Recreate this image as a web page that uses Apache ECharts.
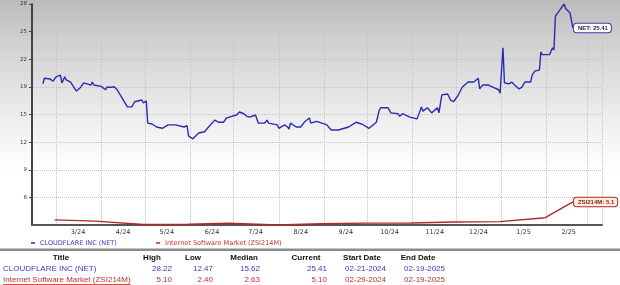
<!DOCTYPE html>
<html><head><meta charset="utf-8">
<script src="https://cdn.jsdelivr.net/npm/echarts@6/dist/echarts.min.js"></script>
<style>
html,body{margin:0;padding:0;background:#fff;}
#c{width:620px;height:285px;}
</style></head><body><div id="c"></div>
<script>
// ---- data ----
const netDates = ['2024-02-21','2024-02-22','2024-02-26','2024-02-28','2024-03-01','2024-03-04','2024-03-05','2024-03-07','2024-03-08','2024-03-11','2024-03-15','2024-03-18','2024-03-20','2024-03-25','2024-03-26','2024-03-27','2024-04-01','2024-04-04','2024-04-05','2024-04-08','2024-04-10','2024-04-12','2024-04-15','2024-04-16','2024-04-19','2024-04-22','2024-04-24','2024-04-25','2024-04-29','2024-04-30','2024-05-02','2024-05-03','2024-05-06','2024-05-09','2024-05-13','2024-05-17','2024-05-22','2024-05-28','2024-05-30','2024-05-31','2024-06-03','2024-06-07','2024-06-11','2024-06-13','2024-06-18','2024-06-21','2024-06-24','2024-06-26','2024-06-28','2024-07-03','2024-07-05','2024-07-08','2024-07-10','2024-07-12','2024-07-16','2024-07-18','2024-07-22','2024-07-24','2024-07-25','2024-07-26','2024-07-31','2024-08-01','2024-08-05','2024-08-07','2024-08-08','2024-08-09','2024-08-13','2024-08-16','2024-08-19','2024-08-22','2024-08-23','2024-08-27','2024-09-03','2024-09-06','2024-09-11','2024-09-18','2024-09-23','2024-09-27','2024-10-02','2024-10-07','2024-10-09','2024-10-10','2024-10-15','2024-10-17','2024-10-22','2024-10-23','2024-10-25','2024-10-30','2024-11-04','2024-11-07','2024-11-08','2024-11-11','2024-11-14','2024-11-18','2024-11-19','2024-11-21','2024-11-25','2024-11-27','2024-11-29','2024-12-02','2024-12-05','2024-12-09','2024-12-10','2024-12-13','2024-12-16','2024-12-17','2024-12-19','2024-12-23','2024-12-26','2024-12-30','2024-12-31','2025-01-02','2025-01-03','2025-01-06','2025-01-08','2025-01-10','2025-01-13','2025-01-15','2025-01-17','2025-01-21','2025-01-22','2025-01-24','2025-01-27','2025-01-28','2025-01-29','2025-01-30','2025-02-03','2025-02-05','2025-02-06','2025-02-07','2025-02-10','2025-02-11','2025-02-13','2025-02-14','2025-02-17','2025-02-18','2025-02-19'];
const netValues = [18.9,19.55,19.45,19.2,19.7,19.9,19.0,19.7,19.35,19.1,18.05,18.5,19.0,18.75,19.1,18.75,18.6,18.2,18.5,18.5,18.55,18.2,17.35,17.2,16.2,16.2,16.8,16.6,17.0,16.65,16.9,14.3,14.2,13.85,13.7,14.1,14.1,13.85,14.0,12.8,12.47,13.15,13.3,13.7,14.65,14.4,14.4,14.9,15.0,15.25,15.6,15.4,15.1,15.0,15.25,14.3,14.3,14.65,14.3,14.2,14.1,13.7,14.1,13.85,13.6,14.3,13.85,13.85,14.5,14.9,14.3,14.5,14.1,13.5,13.5,13.85,14.4,14.2,13.7,14.4,15.8,16.1,16.1,15.5,15.4,15.1,15.4,15.0,14.8,16.2,15.7,16.1,15.5,16.1,15.5,17.6,17.7,17.0,16.8,17.5,18.5,19.1,19.0,19.1,19.55,18.3,18.75,18.75,18.5,18.2,17.8,23.1,19.0,18.9,19.1,18.75,18.3,18.5,19.1,19.1,19.9,20.4,20.5,22.6,22.3,22.5,22.3,23.1,22.85,26.8,27.5,27.75,28.22,27.7,27.2,27.05,25.41];
const zsiDates = ['2024-02-29','2024-03-28','2024-04-30','2024-05-31','2024-06-28','2024-07-31','2024-08-30','2024-09-30','2024-10-31','2024-11-29','2024-12-31','2025-01-31','2025-02-19'];
const zsiValues = [3.00,2.85,2.45,2.48,2.60,2.40,2.55,2.62,2.63,2.75,2.80,3.25,5.10];
const netName = 'CLOUDFLARE INC (NET)';
const zsiName = 'Internet Software Market (ZSI214M)';
const netShort = 'NET';
const zsiShort = 'ZSI214M';
const tableHeaders = ['Title','High','Low','Median','Current','Start Date','End Date'];
const netRow = ['CLOUDFLARE INC (NET)','28.22','12.47','15.62','25.41','02-21-2024','02-19-2025'];
const zsiRow = ['Internet Software Market (ZSI214M)','5.10','2.40','2.63','5.10','02-29-2024','02-19-2025'];
const yMin = 2.4, yMax = 28.22, ySteps = 8;

// ---- chart ----
const blue = '#2b2bb3', red = '#b3262a';
const blueText = '#3b3bb8', redText = '#c0302c';
const chart = echarts.init(document.getElementById('c'), null, {renderer:'canvas'});
const lastDate = new Date(2025,1,20).getTime();
const font = '"DejaVu Sans", Verdana, sans-serif';
const tfont = '"Liberation Sans", Arial, sans-serif';

const graphics = [];
// background: gray at top fading to white, built from thin strips
const bgTop = 186, bgBottom = 255, bgH = 170, strip = 2;
for (let y = 0; y < bgH; y += strip) {
  const t = Math.pow(y / bgH, 0.8);
  const c = Math.round(bgTop + (bgBottom - bgTop) * t);
  graphics.push({type:'rect', z:-10, silent:true, shape:{x:0, y:y, width:620, height:strip + 0.5}, style:{fill:'rgb('+c+','+c+','+c+')'}});
}
// table layout
const headerCenters = [61,152,193,244,306,362,418];
const valueRights = [null,172,213,260,327,386,445];
const yHead = 258, yRow1 = 269, yRow2 = 280;
graphics.push({type:'rect', shape:{x:0,y:248.5,width:620,height:2.5}, style:{fill:'#8c8c8c'}, silent:true});
tableHeaders.forEach((h,i)=>{
  graphics.push({type:'text', x:headerCenters[i], y:yHead, style:{text:h, font:'bold 8px '+tfont, fill:'#111', align:'center', verticalAlign:'middle'}});
});
[[netRow,yRow1,blueText],[zsiRow,yRow2,redText]].forEach(([row,y,col])=>{
  row.forEach((v,i)=>{
    if(i===0){
      graphics.push({type:'text', x:3, y:y, style:{text:v, font:'8px '+tfont, fill:col, align:'left', verticalAlign:'middle'}});
    } else {
      graphics.push({type:'text', x:valueRights[i], y:y, style:{text:v, font:'8px '+tfont, fill:col, align:'right', verticalAlign:'middle'}});
    }
  });
});
// underline for second title
const cv = document.createElement('canvas').getContext('2d');
cv.font = '8px "Liberation Sans"';
const uw = cv.measureText(zsiRow[0]).width;
graphics.push({type:'line', shape:{x1:3,y1:yRow2+4.5,x2:3+uw,y2:yRow2+4.5}, style:{stroke:redText, lineWidth:0.8}});

const endLabelBase = {show:true, fontSize:6, fontWeight:'bold', fontFamily:tfont, borderWidth:1, borderRadius:3, padding:[1.5,3,1,4], distance:1};

chart.setOption({
  animation:false,
  backgroundColor:'#ffffff',
  grid:{left:32, top:4, width:570, height:221},
  legend:[
    {left:26, top:234.5, selectedMode:false, icon:'rect', itemWidth:4, itemHeight:1.5, data:[netName], textStyle:{fontSize:6.5, fontFamily:font, color:blueText}},
    {left:151, top:234.5, selectedMode:false, icon:'rect', itemWidth:4, itemHeight:1.5, data:[zsiName], textStyle:{fontSize:6.5, fontFamily:font, color:redText}}
  ],
  xAxis:{
    type:'time', z:1,
    min:new Date(2024,1,13,12).getTime(),
    max:new Date(2025,2,11).getTime(),
    splitNumber:12,
    minInterval:30*864e5, maxInterval:30*864e5,
    axisLine:{show:true, lineStyle:{color:'#555', width:2}},
    axisTick:{show:false},
    axisLabel:{fontSize:6.5, fontFamily:font, color:'#333', margin:4, padding:[0,0,0,44], align:'center', hideOverlap:false,
      formatter:function(v){ const d=new Date(v); if(d.getDate()!==1||d.getHours()!==0||v>lastDate) return ''; return (d.getMonth()+1)+'/'+String(d.getFullYear()).slice(2);} },
    splitLine:{show:true, lineStyle:{color:'#c4c4c4', type:'dotted', width:1}}
  },
  yAxis:{
    type:'value', z:1, min:yMin, max:yMax, interval:(yMax-yMin)/ySteps,
    axisLine:{show:true, lineStyle:{color:'#444', width:2}},
    axisTick:{show:true, length:3, lineStyle:{color:'#444'}},
    axisLabel:{fontSize:5.5, fontFamily:font, color:'#333', margin:5, showMinLabel:false, formatter:v=>String(Math.round(v))},
    splitLine:{show:true, lineStyle:{color:'#c4c4c4', type:'dotted', width:1}}
  },
  series:[
    {type:'line', name:netName, data:netDates.map((d,i)=>[d,netValues[i]]), showSymbol:false, symbol:'none',
      lineStyle:{color:blue, width:1.4}, itemStyle:{color:blue}, z:3,
      endLabel:Object.assign({}, endLabelBase, {formatter:p=>netShort+': '+String(p.value[1]), color:'#1e1e7a', backgroundColor:'#fffbee', borderColor:'#3b3bb0'})},
    {type:'line', name:zsiName, data:zsiDates.map((d,i)=>[d,zsiValues[i]]), showSymbol:false, symbol:'none',
      lineStyle:{color:red, width:1.4}, itemStyle:{color:red}, z:2,
      endLabel:Object.assign({}, endLabelBase, {formatter:p=>zsiShort+': '+String(p.value[1]), color:'#8a1a1a', backgroundColor:'#fdeede', borderColor:'#b3262a'})}
  ],
  graphic:{elements:graphics}
});
</script></body></html>
